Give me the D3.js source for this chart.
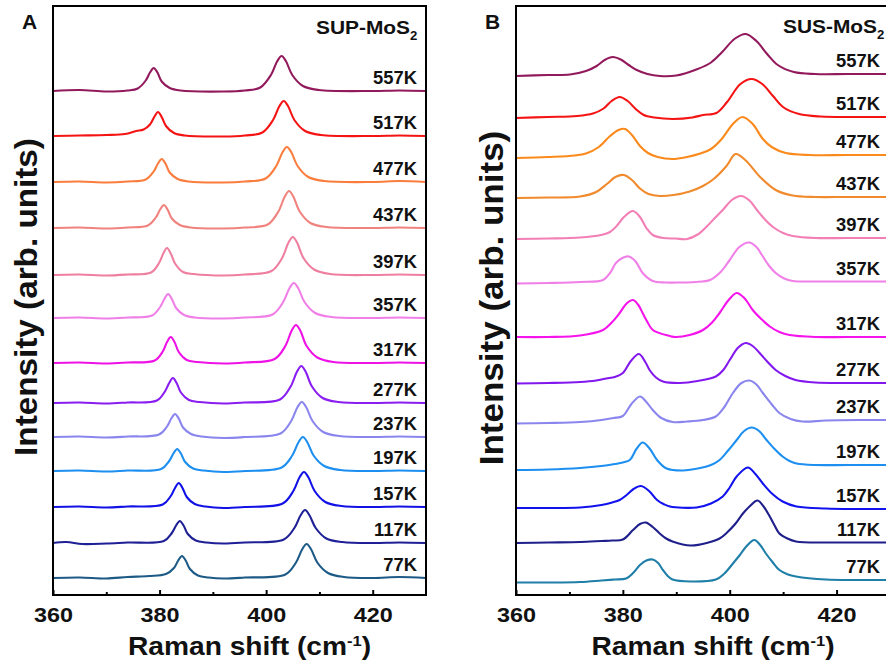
<!DOCTYPE html>
<html>
<head>
<meta charset="utf-8">
<script src="https://cdn.jsdelivr.net/npm/d3@7"></script>
<style>
  html, body { margin: 0; padding: 0; background: #fff; }
  svg { display: block; }
  text { font-family: "Liberation Sans", Arial, Helvetica, sans-serif; font-weight: bold; fill: #111; }
</style>
</head>
<body>
<svg id="chart" width="886" height="667"></svg>
<script>
// ---------------- DATA ----------------
const temps = ["557K","517K","477K","437K","397K","357K","317K","277K","237K","197K","157K","117K","77K"];
const xTicks = [360, 380, 400, 420];
const xMinorTicks = [370, 390, 410];

// Panel A: SUP-MoS2 spectra, [Raman shift (cm-1), intensity (arb. units, stacked)]
const supA557 = [[360,100.8],[365,101.0],[370,100.7],[374,100.9],[375.9,101.3],[377.4,102.9],[378.2,104.5],[378.9,105.4],[379.6,104.5],[380.4,102.7],[381.9,101.4],[383.9,100.9],[392,100.7],[396,100.9],[398.9,101.5],[400.9,104.0],[402.1,106.8],[402.9,107.8],[403.7,106.8],[404.9,104.0],[406.9,101.8],[409.9,101.0],[420,100.8],[425,100.9],[430,100.8]];
const supA517 = [[360,91.8],[365,91.9],[370,92.0],[373.5,92.2],[375.6,92.8],[377.0,93.1],[378.2,94.1],[379.0,95.6],[379.7,96.6],[380.4,95.6],[381.2,93.8],[382.7,92.4],[384.7,91.9],[392,91.7],[396,91.9],[399.3,92.5],[401.3,95.0],[402.5,97.8],[403.3,98.8],[404.1,97.8],[405.3,95.0],[407.3,92.8],[410.3,92.0],[420,91.8],[425,91.9],[430,91.8]];
const supA477 = [[360,82.6],[365,82.7],[370,82.5],[374,82.7],[377.4,83.1],[378.9,84.7],[379.7,86.3],[380.4,87.2],[381.1,86.3],[381.9,84.5],[383.4,83.2],[385.4,82.7],[392,82.5],[396,82.7],[399.9,83.3],[401.9,85.8],[403.1,88.6],[403.9,89.6],[404.7,88.6],[405.9,85.8],[407.9,83.6],[410.9,82.8],[420,82.6],[425,82.8],[430,82.6]];
const supA437 = [[360,73.4],[365,73.5],[370,73.3],[374,73.5],[377.8,73.9],[379.3,75.5],[380.1,77.1],[380.8,78.0],[381.5,77.1],[382.3,75.3],[383.8,74.0],[385.8,73.5],[392,73.3],[396,73.5],[400.3,74.1],[402.3,76.7],[403.5,79.7],[404.3,80.8],[405.1,79.7],[406.3,76.7],[408.3,74.4],[411.3,73.6],[420,73.4],[425,73.5],[430,73.4]];
const supA397 = [[360,64.0],[365,64.1],[370,63.9],[374,64.1],[378.4,64.5],[379.9,66.4],[380.7,68.3],[381.4,69.4],[382.1,68.3],[382.9,66.3],[384.4,64.6],[386.4,64.2],[392,63.9],[396,64.1],[401.0,64.8],[403.0,67.4],[404.2,70.5],[405.0,71.6],[405.8,70.5],[407.0,67.4],[409.0,65.1],[412.0,64.2],[420,64.0],[425,64.1],[430,64.0]];
const supA357 = [[360,55.4],[365,55.5],[370,55.3],[374,55.5],[378.6,55.9],[380.1,57.6],[380.9,59.2],[381.6,60.2],[382.3,59.2],[383.1,57.4],[384.6,56.0],[386.6,55.5],[392,55.3],[396,55.5],[401.2,56.1],[403.2,58.6],[404.4,61.4],[405.2,62.4],[406.0,61.4],[407.2,58.6],[409.2,56.4],[412.2,55.6],[420,55.4],[425,55.5],[430,55.4]];
const supA317 = [[360,46.4],[365,46.5],[370,46.3],[374,46.5],[379.1,46.9],[380.6,48.7],[381.4,50.6],[382.1,51.6],[382.8,50.6],[383.6,48.6],[385.1,47.0],[387.1,46.6],[392,46.3],[396,46.5],[401.6,47.2],[403.6,49.8],[404.8,52.9],[405.6,54.0],[406.4,52.9],[407.6,49.8],[409.6,47.5],[412.6,46.6],[420,46.4],[425,46.5],[430,46.4]];
const supA277 = [[360,38.4],[365,38.5],[370,38.3],[374,38.5],[379.5,38.9],[381.0,40.7],[381.8,42.4],[382.5,43.4],[383.2,42.4],[384.0,40.5],[385.5,39.0],[387.5,38.6],[392,38.3],[396,38.5],[402.6,39.1],[404.6,41.7],[405.8,44.7],[406.6,45.8],[407.4,44.7],[408.6,41.7],[410.6,39.4],[413.6,38.6],[420,38.4],[425,38.5],[430,38.4]];
const supA237 = [[360,31.6],[365,31.7],[370,31.5],[374,31.7],[379.9,32.1],[381.4,33.7],[382.2,35.3],[382.9,36.2],[383.6,35.3],[384.4,33.5],[385.9,32.2],[387.9,31.7],[392,31.4],[396,31.6],[402.7,32.3],[404.7,34.8],[405.9,37.6],[406.7,38.6],[407.5,37.6],[408.7,34.8],[410.7,32.6],[413.7,31.8],[420,31.6],[425,31.7],[430,31.6]];
const supA197 = [[360,24.8],[365,24.9],[370,24.7],[374,24.9],[380.3,25.2],[381.8,26.8],[382.6,28.3],[383.3,29.2],[384.0,28.3],[384.8,26.6],[386.3,25.3],[388.3,24.9],[392,24.6],[396,24.8],[402.9,25.5],[404.9,27.9],[406.1,30.6],[406.9,31.6],[407.7,30.6],[408.9,27.9],[410.9,25.8],[413.9,25.0],[420,24.8],[425,24.9],[430,24.8]];
const supA157 = [[360,17.6],[365,17.7],[370,17.5],[374,17.7],[380.6,18.1],[382.1,19.8],[382.9,21.4],[383.6,22.4],[384.3,21.4],[385.1,19.6],[386.6,18.2],[388.6,17.7],[392,17.4],[396,17.6],[403.1,18.3],[405.1,20.8],[406.3,23.6],[407.1,24.6],[407.9,23.6],[409.1,20.8],[411.1,18.6],[414.1,17.8],[420,17.6],[425,17.7],[430,17.6]];
const supA117 = [[360,10.4],[362.5,10.6],[365.5,10.2],[370,10.3],[374,10.5],[380.8,10.8],[382.3,12.4],[383.1,13.9],[383.8,14.8],[384.5,13.9],[385.3,12.2],[386.8,10.9],[388.8,10.5],[392,10.3],[396,10.5],[403.3,11.1],[405.3,13.4],[406.5,16.0],[407.3,17.0],[408.1,16.0],[409.3,13.4],[411.3,11.3],[414.3,10.6],[420,10.4],[425,10.5],[430,10.4]];
const supA77  = [[360,3.4],[365,3.5],[370,3.3],[374,3.6],[378,3.8],[381.2,4.2],[382.7,5.4],[383.5,6.9],[384.2,7.8],[384.9,6.9],[385.7,5.2],[387.2,3.9],[389.2,3.5],[392,3.3],[396,3.5],[403.6,4.1],[405.6,6.5],[406.8,9.2],[407.6,10.2],[408.4,9.2],[409.6,6.5],[411.6,4.4],[414.6,3.6],[420,3.4],[425,3.6],[430,3.4]];

// Panel B: SUS-MoS2 spectra
const susB557 = [[360,103.8],[366,104.0],[370.1,104.1],[373.1,104.8],[375.1,105.8],[376.6,107.0],[378.1,107.6],[379.6,107.1],[381.1,106.0],[382.6,105.0],[384.6,104.2],[386.9,103.8],[390,103.9],[394,105.2],[396.5,106.5],[398.5,108.5],[401,111.3],[403,112.2],[405,110.8],[407,108.2],[409,106.0],[412,104.6],[416,104.2],[422,104.2],[430,104.2]];
const susB517 = [[360,95.4],[366,95.6],[371.4,95.8],[374.4,96.3],[376.4,97.3],[377.9,98.8],[379.4,99.6],[380.9,98.8],[382.4,97.2],[383.9,96.0],[385.9,95.5],[389.3,95.2],[393,95.5],[395,96.0],[397.5,96.4],[399.5,98.6],[402,102.2],[404.1,103.2],[406.1,102.2],[408.1,99.8],[410.1,97.5],[413,96.2],[417,95.7],[423,95.6],[430,95.6]];
const susB477 = [[360,87.4],[366,87.6],[371,87.9],[373.1,88.3],[375.5,89.6],[377.6,91.8],[379.2,93.0],[380.4,93.2],[381.7,92.0],[383.2,89.8],[384.7,88.4],[386.5,87.6],[389.3,87.2],[392,87.6],[394.5,88.3],[396.5,89.2],[398.5,91.2],[400.6,94.2],[402.4,95.6],[404.3,94.2],[406.2,91.2],[408,89.5],[410.5,88.4],[415,88.0],[422,88.0],[430,88.0]];
const susB437 = [[360,79.4],[366,79.5],[372,79.7],[375,80.6],[377,82.2],[378.6,83.6],[380.2,84.0],[381.7,83.0],[383.2,81.3],[384.8,80.2],[386.9,79.8],[389.5,80.0],[392.5,80.7],[395,81.8],[397,83.2],[399.4,85.8],[401.1,88.2],[403,86.9],[405.6,83.7],[408.6,81.0],[411.8,79.9],[416,79.6],[422,79.6],[430,79.6]];
const susB397 = [[360,71.2],[366,71.3],[372,71.5],[375.9,72.0],[377.6,72.6],[379,74.0],[380.2,75.6],[381.9,76.8],[383.2,75.6],[384.4,73.4],[385.6,72.0],[387.6,71.4],[389.8,71.3],[392,71.2],[394,72.1],[395.7,73.7],[397.3,75.5],[398.7,77.0],[400.4,79.0],[402.1,79.8],[403.7,78.9],[405.1,77.0],[406.6,75.1],[408.1,73.6],[410,72.4],[411.8,71.8],[416,71.4],[422,71.4],[430,71.4]];
const susB357 = [[360,62.3],[366,62.4],[372,62.6],[376.3,63.0],[377.6,64.4],[378.7,66.4],[379.9,67.4],[381.1,67.7],[382.4,66.7],[383.7,64.4],[385.6,62.8],[388,62.5],[390.7,62.5],[393.5,62.6],[396.3,63.0],[398.3,64.6],[400,67.0],[401.8,69.6],[403.6,70.5],[405,69.6],[406.2,67.7],[407.4,65.8],[408.6,64.4],[410.2,63.3],[411.8,62.8],[416,62.7],[422,62.7],[430,62.7]];
const susB317 = [[360,51.6],[366,51.6],[372,51.9],[376.3,53.0],[378,54.6],[379.4,56.4],[380.7,58.3],[381.9,59.0],[382.9,58.0],[383.7,56.4],[384.6,54.6],[385.6,53.0],[388.8,51.8],[389.9,51.6],[392.5,52.0],[395,53.0],[396.7,54.5],[398.1,56.4],[399.8,59.0],[401.3,60.4],[402.8,59.3],[404.3,57.0],[405.9,55.2],[407.5,53.7],[409.3,52.6],[411.2,52.0],[416,51.6],[422,51.6],[430,51.6]];
const susB277 = [[360,42.3],[366,42.4],[372,42.6],[375,42.9],[376.9,43.3],[378.5,43.6],[380,44.4],[381.5,46.8],[383,48.2],[384.2,46.6],[385,45.0],[386.2,43.5],[387.5,42.7],[390.7,42.4],[394,42.8],[397.4,43.7],[398.8,45.0],[400,47.0],[401.6,49.5],[403,50.4],[404.3,49.8],[405.6,48.4],[407.1,46.6],[408.6,45.0],[410.4,43.8],[412.3,43.0],[416,42.5],[422,42.4],[430,42.4]];
const susB237 = [[360,34.3],[366,34.4],[372,34.6],[376,35.0],[378.2,35.4],[380,35.8],[381.6,38.2],[383.2,39.7],[384.4,38.6],[385.6,37.0],[387.2,35.4],[389.3,34.6],[392,34.7],[395,35.0],[397.4,35.7],[399,37.6],[400.6,40.4],[402.2,42.4],[403.7,42.9],[405,42.1],[406.2,40.4],[407.8,38.2],[409.3,36.4],[411.4,35.2],[413.6,34.7],[418,34.9],[424,35.0],[430,35.0]];
const susB197 = [[360,25.0],[366,25.1],[372,25.4],[376,25.8],[378.5,26.2],[380,26.5],[381.3,27.0],[382.6,29.3],[383.7,30.5],[385,29.3],[386.4,27.0],[388.2,25.3],[391.2,24.9],[394.5,25.4],[396.5,26.0],[398.1,27.0],[399.7,28.9],[401.3,31.0],[402.7,32.8],[404.1,33.5],[405.5,32.8],[406.9,31.0],[408.4,29.2],[409.9,27.7],[411.2,26.8],[412.5,26.3],[416,26.0],[422,26.0],[430,26.0]];
const susB157 = [[360,17.4],[366,17.4],[372,17.5],[376,18.0],[378,18.5],[379.4,19.0],[380.7,20.0],[382,21.2],[383.4,21.8],[384.9,20.8],[386.4,19.0],[387.6,18.2],[388.8,17.7],[393.8,17.5],[396.5,18.3],[398.7,19.7],[400,21.5],[401.3,23.7],[403.4,25.5],[404.8,24.2],[406.2,22.3],[408,20.2],[409.9,18.7],[412.5,17.7],[418,17.3],[424,17.2],[430,17.2]];
const susB117 = [[360,10.4],[366,10.5],[372,10.6],[376,10.8],[378,10.9],[380,11.1],[381.9,13.0],[383.2,14.2],[384.3,14.5],[385.6,13.6],[386.9,12.3],[388.1,11.3],[389.3,10.7],[392.7,9.9],[396,10.5],[398.1,11.3],[399.6,12.6],[401.1,14.3],[402.4,16.2],[403.7,17.7],[405.2,18.9],[406.4,17.6],[407.5,15.7],[408.4,13.9],[409.3,12.3],[410.8,11.3],[412.4,10.7],[418,10.5],[424,10.5],[430,10.5]];
const susB77  = [[360,2.5],[366,2.5],[372,2.6],[376,2.9],[378.5,3.1],[380.6,3.3],[382,4.5],[383.2,6.0],[384.4,6.9],[385.6,7.1],[386.6,6.4],[387.5,5.0],[388.4,3.8],[389.3,3.1],[392.7,2.7],[397.4,3.1],[399,4.3],[400.6,6.3],[401.9,8.0],[403.1,9.7],[404.6,11.0],[405.7,10.0],[406.7,8.4],[408,6.6],[409.3,5.0],[410.9,4.1],[412.4,3.7],[418,3.1],[424,3.0],[430,3.0]];

const supSpectra = [supA557, supA517, supA477, supA437, supA397, supA357, supA317, supA277, supA237, supA197, supA157, supA117, supA77];
const susSpectra = [susB557, susB517, susB477, susB437, susB397, susB357, susB317, susB277, susB237, susB197, susB157, susB117, susB77];

// ---------------- STYLE ----------------
const supColors = ["#921a5c","#f51414","#fa7d3e","#f0837e","#ef7fa0","#f07fe8","#ee12e6","#8a1df0","#8a86ee","#1d8ff0","#1212e6","#1f1f96","#1d5a86"];
const susColors = ["#921a5c","#f51414","#fb8a1c","#f08a2c","#f27fb6","#f07fe8","#f514ec","#8318ee","#8a86ee","#1d8ff0","#1212ee","#1f1f8c","#1f7fa8"];

// ---------------- DRAW ----------------
const svg = d3.select("#chart");
const yTop = 6, yBottom = 595;
const y = d3.scaleLinear().domain([0, 117.8]).range([yBottom, yTop]);

function stretchedText(g, x, yy, sx, anchor, size) {
  return g.append("g")
    .attr("transform", `translate(${x},${yy}) scale(${sx},1)`)
    .append("text")
    .attr("text-anchor", anchor)
    .attr("font-size", size);
}

function drawPanel(o) {
  const x = d3.scaleLinear().domain([360, 430]).range([o.left, o.right]);
  const g = svg.append("g");

  const line = d3.line()
    .x(d => x(d[0]))
    .y(d => y(d[1]))
    .curve(d3.curveCatmullRom.alpha(0.5));

  g.append("g").selectAll("path")
    .data(o.spectra)
    .join("path")
    .attr("d", line)
    .attr("fill", "none")
    .attr("stroke", (d, i) => o.colors[i])
    .attr("stroke-width", 2.1)
    .attr("stroke-linejoin", "round");

  // temperature labels
  o.spectra.forEach((s, i) => {
    const last = s[s.length - 1];
    stretchedText(g, o.labelX, y(last[1]) - 7, 1.05, "end", 17.5).text(o.temps[i]);
  });

  // frame
  g.append("rect")
    .attr("x", o.left).attr("y", yTop)
    .attr("width", o.right - o.left).attr("height", yBottom - yTop)
    .attr("fill", "none").attr("stroke", "#000").attr("stroke-width", 2);

  // bottom axis (inward ticks)
  const ax = g.append("g").attr("transform", `translate(0,${yBottom})`)
    .call(d3.axisBottom(x).tickValues(xTicks).tickSizeInner(-5).tickSizeOuter(0).tickPadding(13).tickFormat(d3.format("d")));
  ax.select(".domain").remove();
  ax.selectAll("line").attr("stroke", "#000").attr("stroke-width", 2);
  ax.selectAll("text")
    .attr("font-size", 20).attr("font-weight", "bold")
    .attr("font-family", "'Liberation Sans', Arial, sans-serif")
    .attr("fill", "#111")
    .attr("transform", "scale(1.17,1)");

  const axm = g.append("g").attr("transform", `translate(0,${yBottom})`)
    .call(d3.axisBottom(x).tickValues(xMinorTicks).tickSizeInner(-3).tickSizeOuter(0).tickFormat(""));
  axm.select(".domain").remove();
  axm.selectAll("line").attr("stroke", "#000").attr("stroke-width", 2);

  // x title
  const xt = stretchedText(g, (o.left + o.right) / 2 + 10, 655, 1.1, "middle", 25.6);
  xt.append("tspan").text("Raman shift (cm");
  xt.append("tspan").attr("font-size", 15).attr("dy", -9).text("-1");
  xt.append("tspan").attr("dy", 9).text(")");

  // y title
  g.append("g")
    .attr("transform", `translate(${o.yTitleX},${o.yTitleY}) rotate(-90) scale(${o.yTitleS},1)`)
    .append("text")
    .attr("text-anchor", "middle")
    .attr("font-size", o.yTitleSize)
    .text("Intensity (arb. units)");

  // sample title
  const st = stretchedText(g, o.titleX, o.titleY, 1.1, "start", 19);
  st.append("tspan").text(o.title);
  st.append("tspan").attr("font-size", 12).attr("dy", 6).text("2");

  // panel letter
  g.append("text").attr("x", o.letterX).attr("y", 29)
    .attr("font-size", 21).attr("fill", "#000").text(o.letter);
}

drawPanel({
  left: 53, right: 426, spectra: supSpectra, colors: supColors, temps: temps,
  labelX: 417, title: "SUP-MoS", titleX: 316, titleY: 34, letter: "A", letterX: 22,
  yTitleX: 37, yTitleY: 297, yTitleS: 1.04, yTitleSize: 32
});
drawPanel({
  left: 516, right: 890, spectra: susSpectra, colors: susColors, temps: temps,
  labelX: 880, title: "SUS-MoS", titleX: 783, titleY: 33, letter: "B", letterX: 485,
  yTitleX: 503, yTitleY: 298, yTitleS: 1.03, yTitleSize: 34
});
</script>
</body>
</html>
